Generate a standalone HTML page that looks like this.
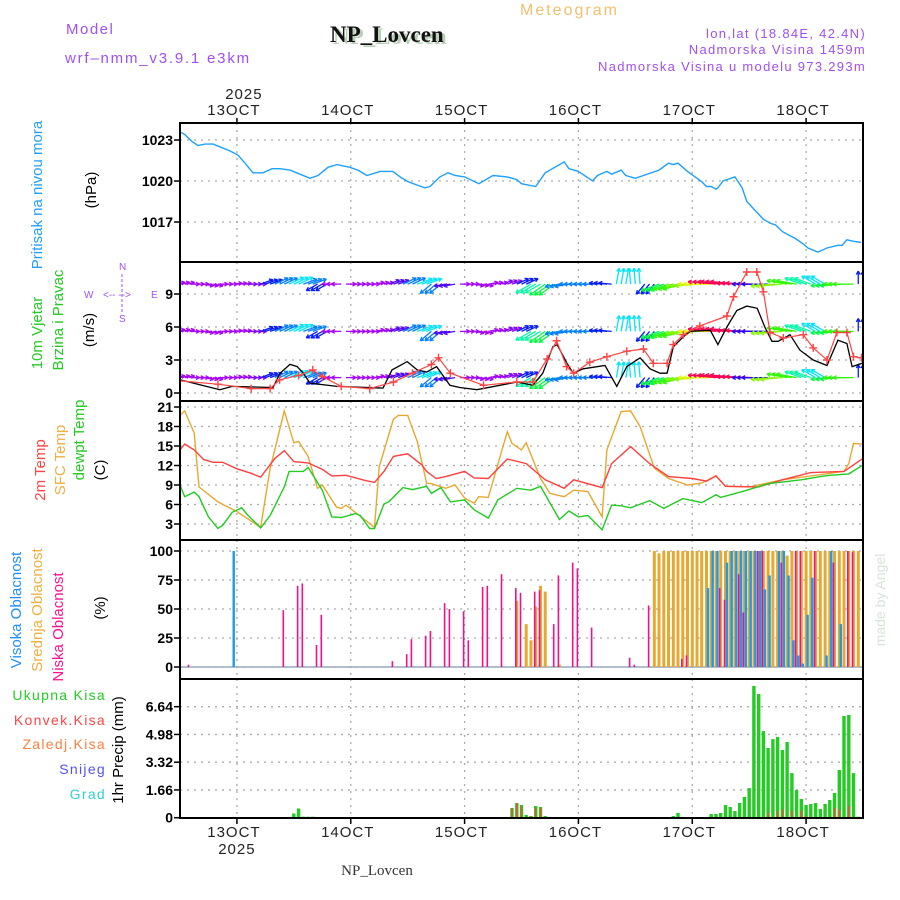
<!DOCTYPE html>
<html><head><meta charset="utf-8"><title>Meteogram NP_Lovcen</title>
<style>
html,body{margin:0;padding:0;background:#fff;}
svg{display:block;font-family:"Liberation Sans",sans-serif;}
.tk{font-size:14px;font-weight:bold;fill:#000;text-anchor:end;}
.dl{font-size:15px;fill:#222;text-anchor:middle;letter-spacing:1px;}
.grid{stroke:#aaa;stroke-width:1.3;stroke-dasharray:2,5;}
</style></head>
<body>
<svg id="chart" width="900" height="900" viewBox="0 0 900 900" xmlns="http://www.w3.org/2000/svg">
<defs>
<clipPath id="c1"><rect x="181" y="124" width="681" height="137"/></clipPath>
<clipPath id="c2"><rect x="181" y="263" width="681" height="137"/></clipPath>
<clipPath id="c3"><rect x="181" y="402" width="681" height="137"/></clipPath>
<clipPath id="c4"><rect x="181" y="541" width="681" height="137"/></clipPath>
<clipPath id="c5"><rect x="181" y="680" width="681" height="137"/></clipPath>
</defs>
<!-- header -->
<text x="66" y="34" font-size="15" fill="#a050f0" letter-spacing="1.5">Model</text>
<text x="65" y="63" font-size="15" fill="#a050f0" letter-spacing="1.8">wrf–nmm_v3.9.1 e3km</text>
<text x="333" y="44" font-size="23" font-weight="bold" fill="#b8d0b8" font-family="Liberation Serif, serif">NP_Lovcen</text>
<text x="330" y="42" font-size="23" font-weight="bold" fill="#111" font-family="Liberation Serif, serif">NP_Lovcen</text>
<text x="520" y="15" font-size="16" fill="#f0c070" letter-spacing="2">Meteogram</text>
<text x="866" y="38" font-size="13" fill="#a050f0" text-anchor="end" letter-spacing="1.3">lon,lat (18.84E, 42.4N)</text>
<text x="866" y="54" font-size="13" fill="#a050f0" text-anchor="end" letter-spacing="1.3">Nadmorska Visina 1459m</text>
<text x="866" y="71" font-size="13" fill="#a050f0" text-anchor="end" letter-spacing="1.3">Nadmorska Visina u modelu 973.293m</text>

<!-- left labels -->
<text transform="rotate(-90 42 195)" x="42" y="195" font-size="15" fill="#22a0ff" text-anchor="middle">Pritisak na nivou mora</text>
<text transform="rotate(-90 96 190)" x="96" y="190" font-size="15" fill="#000" text-anchor="middle">(hPa)</text>
<text transform="rotate(-90 42 333)" x="42" y="333" font-size="15" fill="#22cc22" text-anchor="middle">10m Vjetar</text>
<text transform="rotate(-90 63 320)" x="63" y="320" font-size="15" fill="#22cc22" text-anchor="middle">Brzina i Pravac</text>
<text transform="rotate(-90 94 330)" x="94" y="330" font-size="15" fill="#000" text-anchor="middle">(m/s)</text>
<g fill="#a050f0" font-size="10">
<text x="84" y="298">W</text><text x="103" y="298">&lt;-- --&gt;</text><text x="151" y="298">E</text>
<text x="119" y="270">N</text>
<text x="119" y="322">S</text>
<line x1="122" y1="274" x2="122" y2="312" stroke="#a050f0" stroke-dasharray="3,2"/>
</g>
<text transform="rotate(-90 45 470)" x="45" y="470" font-size="15" fill="#ff4444" text-anchor="middle">2m Temp</text>
<text transform="rotate(-90 65 460)" x="65" y="460" font-size="15" fill="#f0b040" text-anchor="middle">SFC Temp</text>
<text transform="rotate(-90 84 440)" x="84" y="440" font-size="15" fill="#22cc22" text-anchor="middle">dewpt Temp</text>
<text transform="rotate(-90 105 470)" x="105" y="470" font-size="15" fill="#000" text-anchor="middle">(C)</text>
<text transform="rotate(-90 21 610)" x="21" y="610" font-size="15" fill="#1e90ff" text-anchor="middle">Visoka Oblacnost</text>
<text transform="rotate(-90 42 610)" x="42" y="610" font-size="15" fill="#f0b040" text-anchor="middle">Srednja Oblacnost</text>
<text transform="rotate(-90 63 627)" x="63" y="627" font-size="15" fill="#ff1090" text-anchor="middle">Niska Oblacnost</text>
<text transform="rotate(-90 105 608)" x="105" y="608" font-size="15" fill="#000" text-anchor="middle">(%)</text>
<g font-size="14" text-anchor="end" letter-spacing="1.3">
<text x="106" y="700" fill="#22cc22">Ukupna  Kisa</text>
<text x="106" y="725" fill="#ff4444">Konvek.Kisa</text>
<text x="106" y="749" fill="#ff8040">Zaledj.Kisa</text>
<text x="106" y="774" fill="#5050ff">Snijeg</text>
<text x="106" y="799" fill="#30d0d0">Grad</text>
</g>
<text transform="rotate(-90 123 750)" x="123" y="750" font-size="15" fill="#000" text-anchor="middle">1hr Precip (mm)</text>
<text transform="rotate(-90 885 600)" x="885" y="600" font-size="14" fill="#d8e4d8" text-anchor="middle">made by Angel</text>
<text x="377" y="875" font-size="15" fill="#333" text-anchor="middle" font-family="Liberation Serif, serif">NP_Lovcen</text>
<g id="dyn"></g>
</svg>
<script>
const dayLabels=["13OCT","14OCT","15OCT","16OCT","17OCT","18OCT"];
const dayHours=[12,36,60,84,108,132];
const presTicks=[1023,1020,1017];
const windTicks=[9,6,3,0];
const tempTicks=[21,18,15,12,9,6,3];
const cloudTicks=[100,75,50,25,0];
const precipTicks=[6.64,4.98,3.32,1.66,0];

const presHours=[0,1,2.5,3.8,5.3,7,8.4,10.5,12.2,13.7,15.4,17.5,19.4,21.1,23.2,25.3,27.4,29.1,31.2,33.1,35.8,37.5,39.4,42.2,44.9,46.4,48.1,50,51.6,52.7,54.8,56.5,58,60,63,66,69,71,72,75,77,81,82,84,87,88,90,91,93,94,96,101,103,104,105,107,110,111,112,113,113.4,114.5,117,118.5,119.5,123,124.5,125.5,127,128.6,129.7,131.4,132.4,134.5,136.4,138.7,139.6,140.6,141.9,143.6];
const presValues=[1023.6,1023.4,1022.9,1022.6,1022.7,1022.7,1022.5,1022.2,1021.9,1021.3,1020.6,1020.6,1020.9,1020.9,1020.8,1020.5,1020.2,1020.4,1021.0,1021.2,1021.0,1020.8,1020.4,1020.7,1020.7,1020.3,1019.95,1019.7,1019.5,1019.6,1020.3,1020.6,1020.4,1020.3,1019.8,1020.4,1020.3,1020.1,1019.8,1019.6,1020.6,1021.4,1020.9,1020.7,1020.0,1020.4,1020.7,1020.5,1020.8,1020.4,1020.2,1020.8,1021.3,1021.2,1021.3,1020.7,1019.95,1019.6,1019.6,1019.4,1019.5,1020.0,1020.3,1019.5,1018.5,1017.2,1016.9,1016.8,1016.3,1016.0,1015.8,1015.4,1015.1,1014.8,1015.1,1015.3,1015.3,1015.7,1015.6,1015.5];

const speedHours=[0,8.4,11,19.6,21.1,23.2,24.7,26,27.4,33.1,42.8,44.7,47.9,50,52,54.1,56.9,59,62.6,71.1,74.4,76.5,78.6,79.5,81.6,82.9,85,89.6,92.1,94.2,97,99.1,101.2,102.7,104,106.1,107.6,111.8,113.4,115.3,117.4,119.5,121.7,123.3,124.8,126.1,128.6,130.7,133.5,136.4,138.7,140.6,141.7,143.8];
const speedValues=[1.2,0.3,0.6,0.5,1.8,2.6,2.4,1.8,0.9,0.6,0.45,2.1,2.85,2.1,1.9,2.4,0.7,0.5,0.3,1.0,0.7,1.8,4.2,4.4,2.7,1.8,2.2,2.5,0.6,2.4,3.2,2.2,1.8,1.8,4.2,5.1,5.6,5.7,4.4,6.0,7.5,7.9,7.7,6.0,4.7,4.7,5.3,3.9,3.0,2.5,4.8,4.5,2.4,2.7];
const gustHours=[0,8,15,19,21,25,28,30,34,40,45,49,53,54.5,57,64,71,74.4,77.4,79.4,81.5,83,86.4,90,94.2,97.7,99.8,102.7,104,106.1,109.6,115.3,116.7,119.5,121.6,123,124.4,127.2,131.4,133.5,136.4,138.5,140.6,142,143.7];
const gustValues=[1.1,0.8,0.4,0.4,1.2,1.6,2.1,1.5,0.6,0.4,1.0,1.8,2.6,3.2,1.8,0.7,1.0,1.0,3.1,4.75,2.4,1.8,2.8,3.3,3.8,4.0,2.7,2.7,4.4,5.3,6.1,7.0,8.75,11.0,11.0,9.2,5.5,5.0,5.3,4.1,3.0,5.5,5.5,3.3,3.2];
const arrowHours=[0,3,6,9,12,15,18,21,24,27,30,33,36,39,42,45,48,51,54,57,60,63,66,69,72,75,78,81,84,87,90,93,96,99,102,105,108,111,114,117,120,123,126,129,132,135,138,141,144];
const arrowDir=[10,0,350,0,5,0,20,25,25,20,210,180,0,0,10,20,25,20,220,190,0,350,10,20,25,210,215,190,180,180,175,80,95,230,200,195,185,180,175,175,178,180,185,170,160,150,185,180,90];
const arrowSpeed=[1,1,1,1,1,1.2,2,2.5,3,2.5,2,1,1,1,1,1.5,2.5,3,2.5,1.5,1,1,1,1.2,2,3.5,4,2.5,2.5,2.5,2,3,3,2,4,4.5,5,5.5,7,7.5,7,6.5,5,4.5,3.5,3,4,4.5,2];
const arrowRows=[9.9,5.6,1.4];

const t2Hours=[0,1,3,5,7,9,12,15,17,20,22,24,27,30,32,35,39,41,43,45,48,51,52,54,56,60,62,65,69,73,77,81,83,89,91,95,99,103,108,111,113,115,122,127,133,140,144];
const t2Values=[14.4,15.3,14.4,12.9,12.5,12.5,11.5,10.8,10.2,13.1,14.3,12.6,12.4,11.4,10.4,10.5,9.7,9.4,11.1,13.4,13.8,12.1,11.1,10.0,10.3,11.1,10.1,10.0,13.0,12.3,9.8,8.5,9.8,8.6,12.3,14.9,12.3,10.3,10.0,9.6,10.4,8.8,8.7,9.8,10.9,11.1,13.1];
const sfcHours=[0,1,3,4,8,12,17,19,22,24,25,27,29,30,33,34,35,41,42,45,46,48,50,52,53,56,58,60,62,63,65,69,70,72,73,76,78,81,83,86,89,90,93,95,97,100,103,107,110,113,115,120,127,140,141,142,144];
const sfcValues=[19.7,20.4,17.0,8.7,6.4,4.9,2.5,11.5,20.4,15.5,15.7,13.4,8.5,9.0,5.6,5.4,5.9,2.5,11.8,19.1,19.7,19.7,15.7,9.3,9.2,8.5,9.0,7.0,6.2,7.2,7.1,17.2,15.4,14.4,15.5,10.0,7.7,7.2,8.2,8.0,4.1,14.4,20.3,20.4,18.0,11.6,10.0,9.0,9.3,10.4,8.8,8.7,9.8,11.1,12.3,15.4,15.3];
const dewHours=[0,1,3,4,6,8,9,11,13,14,17,19,22,23,26,27,30,32,34,37,38,40,41,43,44,47,49,52,53,55,57,60,62,65,67,71,74,76,80,82,84,86,89,91,93,95,99,102,106,110,113,114,119,124,131,135,137,141,144];
const dewValues=[9.0,7.2,7.9,7.2,4.1,2.3,2.8,4.8,5.5,4.6,2.4,4.3,8.7,11.1,11.1,11.7,8.2,4.1,4.0,4.6,4.3,2.3,2.3,6.1,6.4,8.6,8.3,8.8,7.7,8.6,6.4,6.7,5.2,3.9,6.7,8.5,8.2,8.8,3.7,5.0,4.1,4.3,2.1,5.9,5.8,5.5,6.6,5.4,6.9,6.3,7.5,7.1,8.1,9.2,9.8,10.3,10.5,10.7,12.1];

const lowCloudHours=[2,22,25,26,29,30,45,48,49,52,53,56,57,60,61,64,65,68,71,72,75,76,79,80,83,84,87,95,96,99,106,107,114,115,118,119,122,123,127,130,131,134,138,141,142];
const lowCloudValues=[2,49,70,72,19,45,5,11,24,27,31,55,50,48,23,69,70,80,68,64,65,66,37,79,90,85,34,8,2,53,7,10,68,58,80,47,100,100,90,100,100,100,90,100,99];
const midCloudHours=[71,73,74,75,76,77,80,100,101,102,103,104,105,106,107,108,109,110,111,112,113,114,115,116,117,118,119,120,121,122,123,124,125,126,127,128,129,130,131,132,133,134,135,136,137,138,139,140,141,142,143];
const midCloudValues=[57,37,23,52,70,65,2,100,98,100,100,100,100,100,100,100,100,100,100,100,100,100,100,100,100,100,100,100,100,100,100,100,100,100,100,96,100,100,100,100,100,100,100,100,100,100,100,100,100,100,100];
const highCloudHours=[11,111,112,113,115,116,117,118,119,120,121,122,123,124,126,127,128,129,130,131,132,133,136,137,139];
const highCloudValues=[100,68,100,100,90,100,100,100,100,100,100,100,67,79,100,100,79,23,10,3,45,77,10,100,37];

const precipHours=[24,25,26,27,28,70,71,72,73,74,75,76,77,104,105,112,113,114,115,116,117,118,119,120,121,122,123,124,125,126,127,128,129,130,131,132,133,134,135,136,137,138,139,140,141,142,143];
const precipTotal=[0.25,0.55,0.06,0.06,0.06,0.58,0.88,0.76,0.16,0.1,0.7,0.64,0.1,0.1,0.28,0.22,0.22,0.28,0.76,0.64,0.4,0.88,1.24,1.77,7.88,7.4,5.18,4.17,4.7,4.83,4.05,4.53,2.67,1.65,1.12,0.76,0.82,0.88,0.52,0.82,1.06,1.48,2.85,6.08,6.14,2.67,0.06];
const precipConv=[0,0,0,0,0,0.58,0.88,0.7,0,0.06,0.6,0.6,0,0,0,0,0,0,0,0,0,0,0,0,0,0,0,0.3,0,0.4,0.5,0,0.4,0,0.4,0.1,0,0,0,0,0,0.6,0.5,0,0.7,0,0];

const NS="http://www.w3.org/2000/svg";
const g=document.getElementById('dyn');
const X0=180,X1=863,HMAX=144;
const xOf=h=>X0+h*(X1-X0)/HMAX;
const panels=[
 {top:123,bot:262,y:v=>140+(1023-v)*13.67,ticks:presTicks,fmt:v=>String(v),name:'pressure',clip:'c1'},
 {top:262,bot:401,y:v=>393-v*11,ticks:windTicks,fmt:v=>String(v),name:'wind',clip:'c2'},
 {top:401,bot:540,y:v=>407+(21-v)*6.5,ticks:tempTicks,fmt:v=>String(v),name:'temp',clip:'c3'},
 {top:540,bot:679,y:v=>667-v*1.16,ticks:cloudTicks,fmt:v=>String(v),name:'cloud',clip:'c4'},
 {top:679,bot:818,y:v=>817.7-v*16.72,ticks:precipTicks,fmt:v=>v===0?'0':v.toFixed(2),name:'precip',clip:'c5'}];
function mk(tag,attrs,parent){const e=document.createElementNS(NS,tag);for(const k in attrs)e.setAttribute(k,attrs[k]);(parent||g).appendChild(e);return e;}

panels.forEach(p=>{
 const pg=mk('g',{});
 
 
 dayHours.forEach(h=>{const l=mk('line',{x1:xOf(h),x2:xOf(h),y1:p.top,y2:p.bot,class:'grid'},pg);
  
  });
 p.ticks.forEach(v=>{const y=p.y(v);
  const l=mk('line',{x1:X0,x2:X1,y1:y,y2:y,class:'grid'},pg);
  
  
  mk('line',{x1:X0-6,x2:X0,y1:y,y2:y,stroke:'#000','stroke-width':1.5},pg);
  const t=mk('text',{x:X0-7,y:y+5,class:'tk'},pg);t.textContent=p.fmt(v);
  
  });
 p.g=mk('g',{'clip-path':'url(#'+p.clip+')'},pg);
});

function path(hs,vs,p,attrs,name){
 const d=hs.map((h,i)=>(i?'L':'M')+xOf(h).toFixed(1)+','+p.y(vs[i]).toFixed(1)).join('');
 const e=mk('path',Object.assign({d:d,fill:'none'},attrs),p.g);
 
 
 return e;}

// pressure
path(presHours,presValues,panels[0],{stroke:'#1ea0ff','stroke-width':1.4},'pressure-line');

// wind arrows
function spdColor(s){const stops=[[1,280],[2,235],[3,185],[4.5,110],[5.5,65],[7,340]];
 let hue=stops[stops.length-1][1];
 if(s<=stops[0][0])hue=stops[0][1];
 else for(let i=0;i<stops.length-1;i++){
  if(s>=stops[i][0]&&s<stops[i+1][0]){const f=(s-stops[i][0])/(stops[i+1][0]-stops[i][0]);hue=stops[i][1]+f*(stops[i+1][1]-stops[i][1]);break;}}
 if(hue<0)hue+=360;return 'hsl('+hue.toFixed(0)+',95%,50%)';}
const wp=panels[1];
const offsets=[-1,0,1];
arrowRows.forEach((rv,ri)=>{
 arrowHours.forEach((h,i)=>{
  const c=spdColor(arrowSpeed[i]);
  const ag=mk('g',{stroke:c,'stroke-width':1.3,fill:'none'},wp.g);
  
  
  offsets.forEach(o=>{
   const x=xOf(h+o),y=wp.y(rv),a=arrowDir[i]*Math.PI/180,len=7+arrowSpeed[i]*3;
   const x2=x+Math.cos(a)*len,y2=y-Math.sin(a)*len;
   mk('line',{x1:x,y1:y,x2:x2,y2:y2},ag);
   for(const s of [-1,1]){const b=a+Math.PI+s*0.5;
    mk('line',{x1:x2,y1:y2,x2:x2+Math.cos(b)*4,y2:y2-Math.sin(b)*4},ag);}
  });
 });});
path(speedHours,speedValues,wp,{stroke:'#000','stroke-width':1.3},'wind-speed-line');
path(gustHours,gustValues,wp,{stroke:'#ff4444','stroke-width':1.2},'wind-gust-line');
gustHours.forEach((h,i)=>{const x=xOf(h),y=wp.y(gustValues[i]);
 const m=mk('path',{d:`M${x-4},${y}H${x+4}M${x},${y-4}V${y+4}`,stroke:'#ff4444','stroke-width':1.4},wp.g);
 
 });

// temps
path(sfcHours,sfcValues,panels[2],{stroke:'#e8a830','stroke-width':1.4},'sfc-temp-line');
path(t2Hours,t2Values,panels[2],{stroke:'#ff4040','stroke-width':1.4},'temp-2m-line');
path(dewHours,dewValues,panels[2],{stroke:'#22cc22','stroke-width':1.4},'dewpoint-line');

// clouds
const cp=panels[3];
const z=mk('line',{x1:X0,x2:X1,y1:cp.y(0),y2:cp.y(0),stroke:'#9ab','stroke-width':1.5},cp.g);


function bars(hs,vs,p,color,w,off,name){hs.forEach((h,i)=>{const x=xOf(h)+off,y=p.y(vs[i]),y0=p.y(0);
 if(vs[i]<=0)return;
 const r=mk('rect',{x:(x-w/2).toFixed(1),y:y.toFixed(1),width:w,height:(y0-y).toFixed(1),fill:color},p.g);
 
 });}
bars(midCloudHours,midCloudValues,cp,'#e8a830',3,0,'mid-cloud-bar');
bars(highCloudHours,highCloudValues,cp,'#1e9be8',2.4,1.5,'high-cloud-bar');
bars(lowCloudHours,lowCloudValues,cp,'#f0108a',1.6,-1,'low-cloud-bar');

// precip
const pp=panels[4];
bars(precipHours,precipTotal,pp,'#22cc22',3.4,0,'precip-total-bar');
bars(precipHours,precipConv,pp,'#ff4444',1.4,0,'precip-conv-bar');

// frames
panels.forEach(p=>{const r=mk('rect',{x:X0,y:p.top,width:X1-X0,height:p.bot-p.top,fill:'none',stroke:'#000','stroke-width':2});
 
 });
// x labels
dayHours.forEach((h,i)=>{const x=xOf(h);
 mk('line',{x1:x,x2:x,y1:118,y2:123,stroke:'#000','stroke-width':1.5});
 mk('line',{x1:x,x2:x,y1:818,y2:824,stroke:'#000','stroke-width':1.5});
 const t=mk('text',{x:x-3,y:115,class:'dl'});t.textContent=dayLabels[i];
 
 
 const b=mk('text',{x:x-3,y:837,class:'dl'});b.textContent=dayLabels[i];
 
 });
const y1=mk('text',{x:xOf(12)+7,y:99,class:'dl'});y1.textContent='2025';


const y2=mk('text',{x:xOf(12),y:854,class:'dl'});y2.textContent='2025';


</script>
</body></html>
